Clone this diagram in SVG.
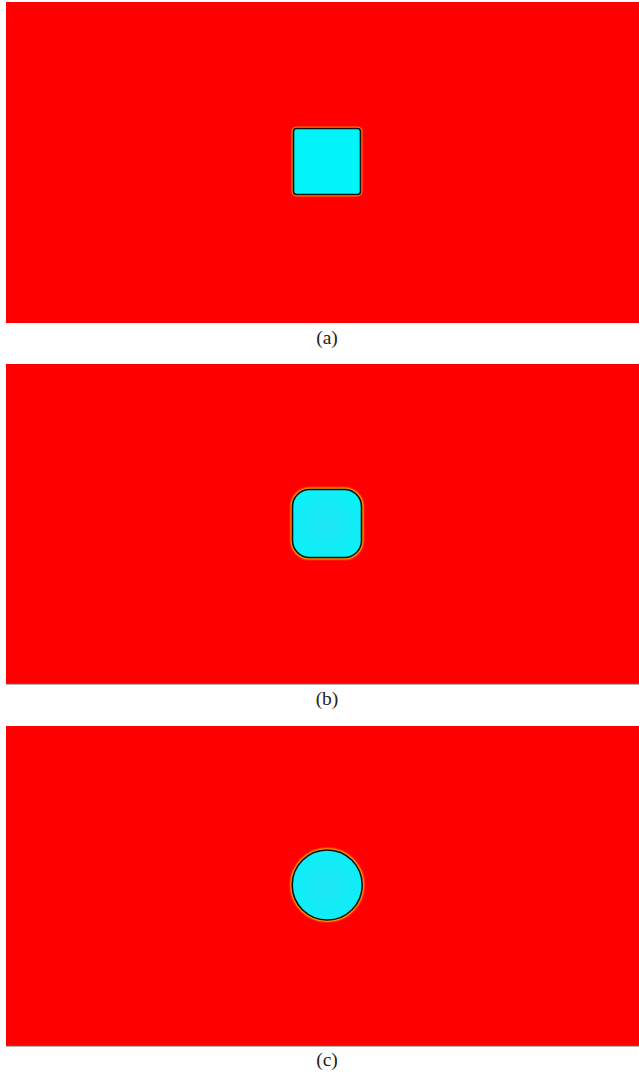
<svg xmlns="http://www.w3.org/2000/svg" width="639" height="1079" viewBox="0 0 639 1079">
<style>
.bg{fill:#ff0000}
.halo{fill:none;stroke:#ffb000;stroke-width:4;stroke-opacity:0.7}
.halo2{fill:none;stroke:#ff6000;stroke-width:6;stroke-opacity:0.5}
.edge{stroke:#101010;stroke-width:1.6}
.lbl{font-family:"Liberation Serif","DejaVu Serif",serif;font-size:19.5px;fill:#222;text-anchor:middle}
.base{stroke:#666;stroke-width:1}
</style>
<defs>
<radialGradient id="cy" cx="0.5" cy="0.5" r="0.6">
<stop offset="0" stop-color="#1ee6f4"/>
<stop offset="0.8" stop-color="#0eeef8"/>
<stop offset="1" stop-color="#00f6fa"/>
</radialGradient>
</defs>
<rect width="639" height="1079" fill="#ffffff"/>
<g id="panel-a">
<rect class="bg" x="6" y="2" width="633" height="321"/>
<rect class="halo" x="293.5" y="128.5" width="67" height="66" rx="3"/>
<rect class="edge" x="293.5" y="128.5" width="67" height="66" rx="3" fill="#00f4f8"/>
<text class="lbl" x="327" y="344">(a)</text>
</g>
<g id="panel-b">
<rect class="bg" x="6" y="364" width="633" height="320"/>
<line class="base" x1="6" y1="684" x2="639" y2="684"/>
<rect class="halo2" x="292.5" y="489.5" width="69" height="68" rx="17"/>
<rect class="halo" x="292.5" y="489.5" width="69" height="68" rx="17"/>
<rect class="edge" x="292.5" y="489.5" width="69" height="68" rx="17" fill="url(#cy)"/>
<text class="lbl" x="327" y="705">(b)</text>
</g>
<g id="panel-c">
<rect class="bg" x="6" y="726" width="633" height="320"/>
<line class="base" x1="6" y1="1046" x2="639" y2="1046"/>
<circle class="halo2" cx="327.2" cy="885" r="35"/>
<circle class="halo" cx="327.2" cy="885" r="35"/>
<circle class="edge" cx="327.2" cy="885" r="35" fill="url(#cy)"/>
<text class="lbl" x="327" y="1066">(c)</text>
</g>
</svg>
